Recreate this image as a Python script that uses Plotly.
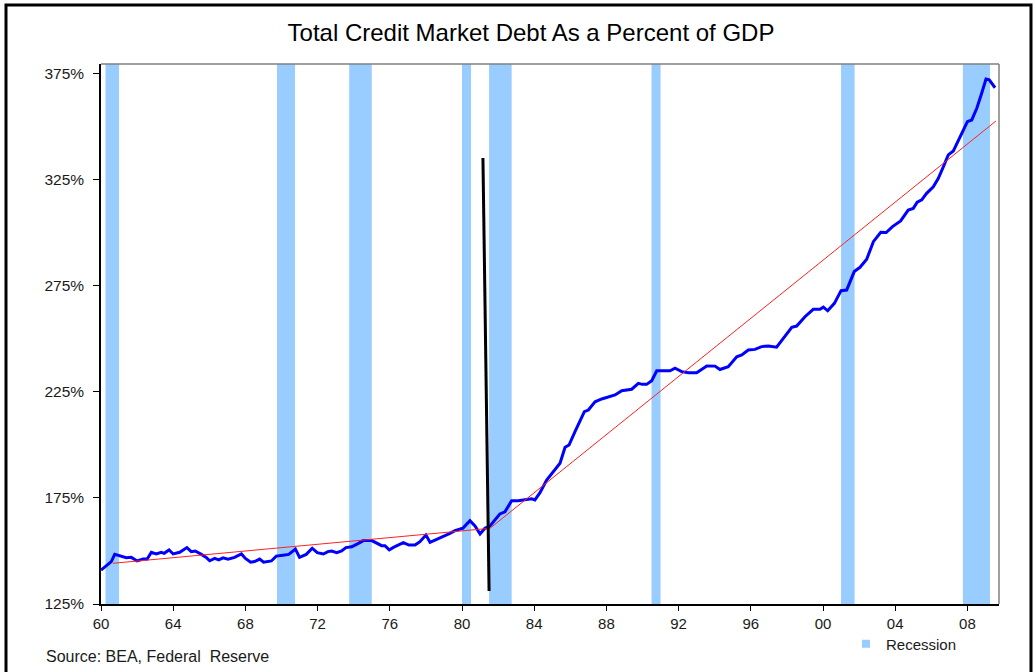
import plotly.graph_objects as go

# ---------------- data ----------------
years = [1960.0, 1960.3, 1960.57, 1960.76, 1961.12, 1961.4, 1961.68, 1962.0, 1962.33, 1962.56,
         1962.79, 1963.06, 1963.34, 1963.5, 1963.77, 1964.0, 1964.36, 1964.76, 1965.0, 1965.22,
         1965.56, 1965.83, 1966.02, 1966.3, 1966.52, 1966.76, 1967.04, 1967.4, 1967.78, 1968.0,
         1968.29, 1968.51, 1968.79, 1969.01, 1969.44, 1969.71, 1970.08, 1970.4, 1970.77, 1971.0,
         1971.37, 1971.7, 1971.98, 1972.32, 1972.57, 1972.78, 1973.06, 1973.33, 1973.57, 1973.89,
         1974.26, 1974.53, 1975.0, 1975.27, 1975.55, 1975.73, 1975.97, 1976.2, 1976.47, 1976.75,
         1977.06, 1977.4, 1977.67, 1978.0, 1978.23, 1978.6, 1978.96, 1979.33, 1979.61, 1980.04,
         1980.44, 1980.72, 1981.0, 1981.27, 1981.55, 1981.83, 1982.1, 1982.38, 1982.75, 1983.12,
         1983.58, 1983.86, 1984.04, 1984.32, 1984.69, 1985.06, 1985.43, 1985.71, 1985.93, 1986.26,
         1986.54, 1986.78, 1987.0, 1987.37, 1987.74, 1988.2, 1988.48, 1988.85, 1989.4, 1989.77,
         1989.99, 1990.23, 1990.51, 1990.79, 1991.25, 1991.53, 1991.8, 1992.17, 1992.54, 1993.0,
         1993.56, 1994.02, 1994.29, 1994.75, 1995.22, 1995.5, 1995.86, 1996.23, 1996.6, 1996.97,
         1997.43, 1997.9, 1998.27, 1998.54, 1999.0, 1999.46, 1999.83, 2000.02, 2000.26, 2000.63,
         2001.0, 2001.31, 2001.73, 2002.05, 2002.42, 2002.79, 2003.2, 2003.5, 2003.85, 2004.3,
         2004.72, 2005.0, 2005.22, 2005.47, 2005.74, 2006.11, 2006.39, 2006.67, 2006.94, 2007.22,
         2007.59, 2008.0, 2008.24, 2008.52, 2008.79, 2009.03, 2009.21, 2009.53]

debt_pct = [141.0, 143.1, 145.0, 148.4, 147.3, 146.8, 147.0, 145.3, 146.2, 146.2,
            149.4, 148.6, 149.4, 148.9, 150.5, 148.6, 149.4, 151.6, 149.7, 150.0,
            148.4, 147.0, 145.4, 146.5, 145.8, 146.8, 146.1, 147.0, 148.6, 146.5,
            144.7, 145.0, 146.2, 144.7, 145.3, 147.6, 148.0, 148.4, 150.9, 147.0,
            148.4, 151.3, 149.2, 148.6, 149.7, 150.0, 149.2, 150.0, 151.6, 152.0,
            153.6, 154.9, 154.9, 153.9, 152.5, 152.5, 150.5, 151.7, 152.8, 153.9,
            152.8, 152.8, 154.4, 157.5, 154.1, 155.5, 156.7, 158.3, 159.6, 160.7,
            164.3, 161.8, 158.0, 160.7, 161.8, 165.0, 167.5, 168.5, 173.7, 173.7,
            174.4, 174.6, 174.1, 177.5, 183.5, 187.4, 191.4, 198.9, 200.0, 206.3,
            211.0, 215.7, 216.5, 220.4, 221.7, 222.8, 223.6, 225.6, 226.3, 229.1,
            228.6, 228.6, 230.3, 235.0, 235.0, 235.0, 236.2, 234.6, 234.1, 234.1,
            237.3, 237.2, 235.6, 236.9, 241.6, 242.5, 244.8, 245.1, 246.4, 246.7,
            246.1, 251.1, 255.5, 256.1, 260.5, 264.0, 264.0, 265.0, 263.3, 266.8,
            272.8, 273.1, 281.8, 283.8, 287.6, 295.9, 300.3, 300.2, 303.0, 305.7,
            310.8, 311.6, 314.5, 315.6, 318.7, 321.8, 325.8, 331.3, 336.8, 338.7,
            345.4, 352.5, 353.3, 358.8, 365.9, 372.6, 372.2, 368.5]

# trend lines (pre- and post-1981)
trend1_x = [1960.66, 1981.55]
trend1_y = [144.2, 160.7]
trend2_x = [1981.55, 2009.58]
trend2_y = [160.7, 352.8]

# vertical black marker line
marker_x = [1981.16, 1981.5]
marker_y = [335.4, 131.1]

# recession periods
rec_start = [1960.25, 1969.75, 1973.75, 1980.0, 1981.5, 1990.5, 2001.0, 2007.75]
rec_end = [1961.0, 1970.75, 1975.0, 1980.5, 1982.75, 1991.0, 2001.75, 2009.25]

x_tickvals = [1960, 1964, 1968, 1972, 1976, 1980, 1984, 1988, 1992, 1996, 2000, 2004, 2008]
x_ticktext = ["60", "64", "68", "72", "76", "80", "84", "88", "92", "96", "00", "04", "08"]
y_tickvals = [125, 175, 225, 275, 325, 375]
y_ticktext = ["125%", "175%", "225%", "275%", "325%", "375%"]

FONT = "Liberation Sans, Arial, sans-serif"
TXT = "#1a1a1a"

fig = go.Figure()

# legend entry for recessions
fig.add_trace(go.Scatter(
    x=[None], y=[None], mode="markers", name="Recession",
    marker=dict(symbol="square", size=8, color="#99CCFF"),
    showlegend=True, hoverinfo="skip"))

fig.add_trace(go.Scatter(
    x=years, y=debt_pct, mode="lines", line=dict(color="#0000FF", width=3),
    showlegend=False, name="Debt/GDP"))

fig.add_trace(go.Scatter(
    x=trend1_x, y=trend1_y, mode="lines", line=dict(color="#FF2020", width=1),
    showlegend=False))
fig.add_trace(go.Scatter(
    x=trend2_x, y=trend2_y, mode="lines", line=dict(color="#FF2020", width=1),
    showlegend=False))

fig.add_trace(go.Scatter(
    x=marker_x, y=marker_y, mode="lines", line=dict(color="#000000", width=3),
    showlegend=False))

shapes = []
for s, e in zip(rec_start, rec_end):
    shapes.append(dict(type="rect", xref="x", yref="paper", x0=s, x1=e, y0=0, y1=1,
                       fillcolor="#99CCFF", line=dict(width=0), layer="below"))

# gray top and right frame of plot area
shapes.append(dict(type="line", xref="paper", yref="paper", x0=0, x1=1, y0=1, y1=1,
                   line=dict(color="#808080", width=1.5)))
shapes.append(dict(type="line", xref="paper", yref="paper", x0=1, x1=1, y0=0, y1=1,
                   line=dict(color="#808080", width=1.5)))

# outer chart border
L, R, T, B = 101, 37, 64, 68
PW, PH = 1036 - L - R, 672 - T - B
def px_x(p):
    return (p - L) / PW
def px_y(p):
    return (672 - B - p) / PH
shapes.append(dict(type="rect", xref="paper", yref="paper",
                   x0=px_x(6), x1=px_x(1031), y0=px_y(690), y1=px_y(5),
                   line=dict(color="#000000", width=3), fillcolor="rgba(0,0,0,0)"))

fig.update_layout(
    width=1036, height=672,
    margin=dict(l=L, r=R, t=T, b=B),
    paper_bgcolor="white", plot_bgcolor="white",
    font=dict(family=FONT, size=15, color=TXT),
    title=dict(text="Total Credit Market Debt As a Percent of GDP",
               x=531 / 1036, xanchor="center", xref="container",
               y=(672 - 33) / 672, yanchor="middle", yref="container",
               font=dict(family=FONT, size=24, color="#000000")),
    shapes=shapes,
    showlegend=True,
    legend=dict(x=px_x(846), y=px_y(644), xanchor="left", yanchor="middle",
                bgcolor="rgba(0,0,0,0)", borderwidth=0,
                font=dict(family=FONT, size=15, color=TXT), itemwidth=30),
    annotations=[dict(text="Source: BEA, Federal  Reserve", xref="paper", yref="paper",
                      x=px_x(44), y=px_y(656), xanchor="left", yanchor="middle",
                      showarrow=False, font=dict(family=FONT, size=16, color=TXT))],
)

fig.update_xaxes(range=[1960, 2009.75], tickvals=x_tickvals, ticktext=x_ticktext,
                 showgrid=False, zeroline=False, showline=True, linecolor="#000000",
                 linewidth=1.5, ticks="outside", ticklen=5, tickcolor="#000000",
                 tickfont=dict(family=FONT, size=15, color=TXT))
fig.update_yaxes(range=[125, 379.7], tickvals=y_tickvals, ticktext=y_ticktext,
                 showgrid=False, zeroline=False, showline=True, linecolor="#000000",
                 linewidth=1.5, ticks="outside", ticklen=6, tickcolor="#000000",
                 ticklabelstandoff=6,
                 tickfont=dict(family=FONT, size=15.5, color=TXT))

fig.write_html("out.html")
